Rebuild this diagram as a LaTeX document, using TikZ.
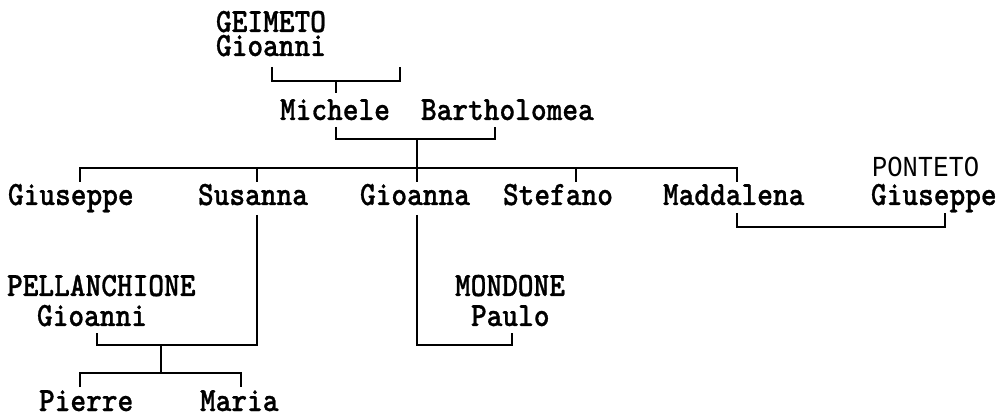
\documentclass[tikz,border=0pt]{standalone}
\usepackage{fontspec}
\newfontfamily\mono{lmmonolt10-bold}[Extension=.otf,FakeStretch=0.88,FakeBold=0.8]
\newfontfamily\sansmono{Liberation Mono}[FakeStretch=0.88]
\begin{document}
\begin{tikzpicture}[x=1pt,y=-1pt,
  nm/.style={anchor=base west,inner sep=0pt,outer sep=0pt,text height=20pt,text depth=0pt,font=\mono\fontsize{34}{34}\selectfont},
  snm/.style={anchor=base west,inner sep=0pt,outer sep=0pt,text height=17pt,text depth=0pt,font=\sansmono\fontsize{29}{29}\selectfont},
  link/.style={line width=1.7pt,line cap=butt,line join=miter}]
\useasboundingbox[fill=white] (0,0) rectangle (1002,414);
% texts
\node[nm] (geim) at (216,32) {GEIMETO};
\node[nm] (gio1) at (216,56) {Gioanni};
\node[nm] (mich) at (280,120) {Michele};
\node[nm] (bart) at (421,120) {Bartholomea};
\node[nm] (gius) at (8,205) {Giuseppe};
\node[nm] (susa) at (198,205) {Susanna};
\node[nm] (gioa) at (360,205) {Gioanna};
\node[nm] (stef) at (503,205) {Stefano};
\node[nm] (madd) at (663,205) {Maddalena};
\node[snm] (pont) at (872,177) {PONTETO};
\node[nm] (gius2) at (871,205) {Giuseppe};
\node[nm] (pell) at (7,296) {PELLANCHIONE};
\node[nm] (gio2) at (37,326) {Gioanni};
\node[nm] (mond) at (455,296) {MONDONE};
\node[nm] (paul) at (471,326) {Paulo};
\node[nm] (pier) at (39,411) {Pierre};
\node[nm] (mari) at (200,411) {Maria};
% connectors
\coordinate (tA) at (272,67); \coordinate (tB) at (400,67);
\draw[link] (tA) -- (272,81) -- (400,81) -- (tB);
\draw[link] (336,81) -- (336,93);
\draw[link] (336,127) -- (336,139) -- (495,139) -- (495,127);
\draw[link] (417,139) -- (417,182);
\draw[link] (80,182) -- (80,168) -- (737,168) -- (737,182);
\draw[link] (257,168) -- (257,182);
\draw[link] (576,168) -- (576,182);
\draw[link] (257,215) -- (257,345) -- (97,345) -- (97,333);
\draw[link] (161,345) -- (161,373);
\draw[link] (80,387) -- (80,373) -- (241,373) -- (241,387);
\draw[link] (417,215) -- (417,345) -- (512,345) -- (512,333);
\draw[link] (737,213) -- (737,227) -- (945,227) -- (945,213);
\end{tikzpicture}
\end{document}
